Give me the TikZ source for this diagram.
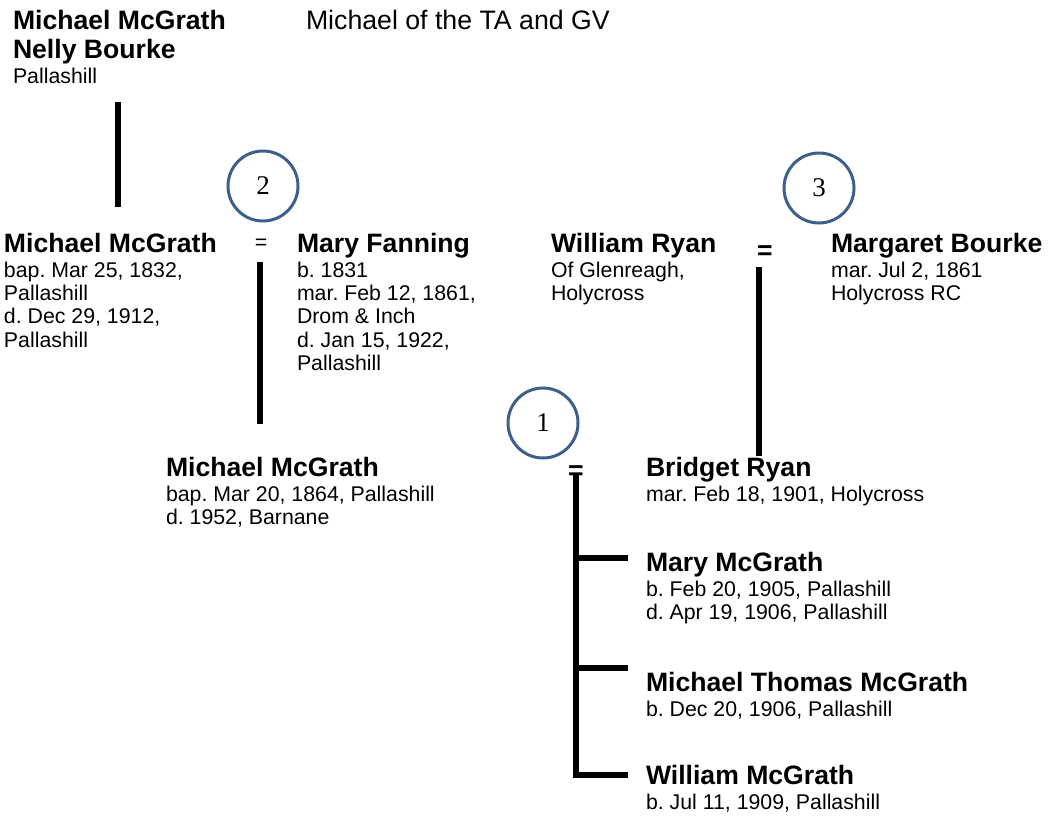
\documentclass[tikz,border=0pt]{standalone}
\usepackage{fontspec}
\setmainfont{Liberation Sans}
\newfontfamily\circlefont{Liberation Serif}
\frenchspacing
\definecolor{circblue}{HTML}{3C5F8C}
\newcommand\bigbold{\fontsize{26.6}{29.4}\selectfont\bfseries}
\newcommand\smalltext{\fontsize{21.3}{23.3}\selectfont}
\newcommand\dl[1]{\hbox{\smalltext #1}\baselineskip=23.3pt}
\newcommand\pers[2]{\vtop{\lineskiplimit=-\maxdimen\baselineskip=25.3pt\hbox{\bigbold #1}#2}}
\begin{document}
\begin{tikzpicture}[x=1pt,y=-1pt,
  pnode/.style={anchor=base west,inner sep=0pt,outer sep=0pt},
  numcirc/.style={circle,draw=circblue,line width=3pt,minimum size=70pt,inner sep=0pt,
    font=\fontsize{27}{30}\circlefont},
  eqsmall/.style={anchor=base,inner sep=0pt,font=\smalltext},
  eqbig/.style={anchor=base,inner sep=0pt,font=\bigbold},
  link/.style={line width=5.5pt,line cap=butt,line join=miter}]
\useasboundingbox (0,0) rectangle (1048,817);

% top couple and title
\node[pnode] (top) at (13,29) {\vtop{\lineskiplimit=-\maxdimen\baselineskip=29.4pt
  \hbox{\bigbold Michael McGrath}\hbox{\bigbold Nelly Bourke}\baselineskip=24.6pt
  \hbox{\smalltext Pallashill}}};
\node[pnode,font=\fontsize{26.7}{29.4}\selectfont] (title) at (306,29) {Michael of the TA and GV};

% second generation
\node[pnode] (mm1) at (4,252) {\pers{Michael McGrath}{\dl{bap. Mar 25, 1832,}\dl{Pallashill}\dl{d. Dec 29, 1912,}\dl{Pallashill}}};
\node[eqsmall] (eq1) at (261,249) {=};
\node[pnode] (mf) at (297,252) {\pers{Mary Fanning}{\dl{b. 1831}\dl{mar. Feb 12, 1861,}\dl{Drom \& Inch}\dl{d. Jan 15, 1922,}\dl{Pallashill}}};

\node[pnode] (wr) at (551,252) {\pers{William Ryan}{\dl{Of Glenreagh,}\dl{Holycross}}};
\node[eqbig] (eq3) at (765,259) {=};
\node[pnode] (mb) at (831,252) {\pers{Margaret Bourke}{\dl{mar. Jul 2, 1861}\dl{Holycross RC}}};

% third generation
\node[pnode] (mm2) at (166,476) {\pers{Michael McGrath}{\dl{bap. Mar 20, 1864, Pallashill}\dl{d. 1952, Barnane}}};
\node[eqbig] (eq2) at (576,479) {=};
\node[pnode] (br) at (646,476) {\pers{Bridget Ryan}{\dl{mar. Feb 18, 1901, Holycross}}};

% children
\node[pnode] (mary) at (646,571) {\pers{Mary McGrath}{\dl{b. Feb 20, 1905, Pallashill}\dl{d. Apr 19, 1906, Pallashill}}};
\node[pnode] (mtm) at (646,691) {\pers{Michael Thomas McGrath}{\dl{b. Dec 20, 1906, Pallashill}}};
\node[pnode] (wm) at (646,784) {\pers{William McGrath}{\dl{b. Jul 11, 1909, Pallashill}}};

% numbered circles
\node[numcirc] (c2) at (263,186) {2};
\node[numcirc] (c3) at (819,188) {3};
\node[numcirc] (c1) at (543,423) {1};

% connector end points
\coordinate (l1a) at (118,102);
\coordinate (l1b) at (118,207);
\coordinate (l2a) at (260,262);
\coordinate (l2b) at (260,424);
\coordinate (l3a) at (759,267);
\coordinate (l3b) at (759,456);
\coordinate (t0) at (576,475);
\coordinate (t1) at (576,558);
\coordinate (t2) at (576,668);
\coordinate (t3) at (576,775);
\coordinate (e1) at (628,558);
\coordinate (e2) at (628,668);
\coordinate (e3) at (628,775);

\draw[link] (l1a) -- (l1b);
\draw[link] (l2a) -- (l2b);
\draw[link] (l3a) -- (l3b);
\draw[link] (t0) -- (t3) -- (e3);
\draw[link] (t1) -- (e1);
\draw[link] (t2) -- (e2);
\end{tikzpicture}
\end{document}
